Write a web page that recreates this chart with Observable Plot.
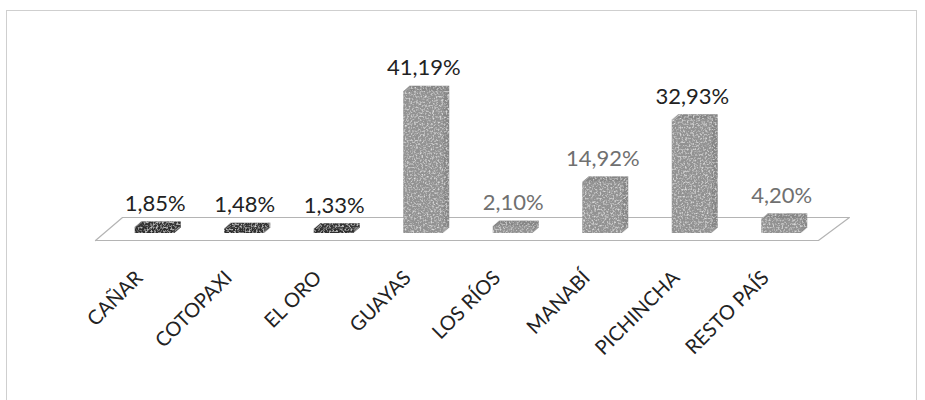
<!DOCTYPE html>
<html lang="es">
<head>
<meta charset="utf-8">
<script src="https://cdn.jsdelivr.net/npm/d3@7"></script>
<script src="https://cdn.jsdelivr.net/npm/@observablehq/plot@0.6"></script>
<style>
  html, body { margin: 0; padding: 0; background: #fff; }
  #wrap { position: relative; width: 925px; height: 400px; overflow: hidden; }
  #border { position: absolute; left: 6px; top: 10px; width: 911px; height: 400px;
            border: 1px solid #cfcfcf; border-bottom: none; box-sizing: border-box; pointer-events: none; }
  #chart { position: absolute; left: 0; top: 0; }
</style>
</head>
<body>
<div id="wrap">
  <div id="chart"></div>
  <div id="border"></div>
</div>
<script>
// Participación por provincia (%)
const categories = ["CAÑAR", "COTOPAXI", "EL ORO", "GUAYAS", "LOS RÍOS", "MANABÍ", "PICHINCHA", "RESTO PAÍS"];
const shares = [1.85, 1.48, 1.33, 41.19, 2.10, 14.92, 32.93, 4.20];

// Styling
const darkBars = new Set(["CAÑAR", "COTOPAXI", "EL ORO"]);
const darkLabels = new Set(["CAÑAR", "COTOPAXI", "EL ORO", "GUAYAS", "PICHINCHA"]);
const fmt = v => d3.format(".2f")(v).replace(".", ",") + "%";

const rows = categories.map((category, i) => ({i, category, share: shares[i]}));

// Layout of the pseudo-3D chart
const W = 925, H = 400;
const xDomain = [-0.5, 7.5];
const marginLeft = 110, marginRight = 99;
const marginTop = 60.5, marginBottom = 167;
const yDomain = [0, 50];
const pxPerX = (W - marginLeft - marginRight) / (xDomain[1] - xDomain[0]);
const pxPerY = (H - marginTop - marginBottom) / (yDomain[1] - yDomain[0]);
const half = 20 / pxPerX;          // half width of a bar front face
const depth = 6;                    // extrusion depth in px

// Floor parallelogram around the baseline (pixel offsets converted to data units)
const floorPts = [
  {x: xDomain[0] - 15 / pxPerX, y: -7 / pxPerY},
  {x: xDomain[1] + 0.1 - 17 / pxPerX, y: -7 / pxPerY},
  {x: xDomain[1] + 0.1 + 14 / pxPerX, y: 16 / pxPerY},
  {x: xDomain[0] + 12 / pxPerX, y: 16 / pxPerY}
];
floorPts.push(floorPts[0]);

const sideFill = d => darkBars.has(d.category) ? "#363636" : "#868686";
const frontFill = d => darkBars.has(d.category) ? "#2e2e2e" : "#929292";

const extrusion = d3.range(1, depth + 1).map(k =>
  Plot.rect(rows, {
    x1: d => d.i - half, x2: d => d.i + half, y1: 0, y2: "share",
    dx: k, dy: -0.86 * k, fill: sideFill
  })
);

const chart = Plot.plot({
  width: W, height: H,
  marginLeft, marginRight, marginTop, marginBottom,
  x: {type: "linear", domain: xDomain, axis: null},
  y: {domain: yDomain, axis: null},
  style: {background: "transparent", fontFamily: "Lato, 'Open Sans', sans-serif"},
  marks: [
    Plot.line(floorPts, {x: "x", y: "y", stroke: "#b4b4b4", strokeWidth: 1.2, fill: "none"}),
    ...extrusion,
    Plot.rect(rows, {
      x1: d => d.i - half, x2: d => d.i + half, y1: 0, y2: "share", fill: frontFill
    }),
    Plot.text(rows, {
      x: "i", y: "share", text: d => fmt(d.share),
      dx: 0, dy: -23, fontSize: 22,
      fill: d => darkLabels.has(d.category) ? "#222" : "#707070"
    }),
    Plot.text(rows, {
      x: "i", y: 0, text: "category", rotate: -45, textAnchor: "end",
      dx: -16, dy: 41, fontSize: 20, fill: "#222"
    })
  ]
});

// Speckled print texture on the bar faces
const svg = d3.select(chart);
const defs = svg.insert("defs", ":first-child");
const grain = defs.append("filter").attr("id", "grain")
  .attr("x", 0).attr("y", 0).attr("width", 1).attr("height", 1);
grain.append("feTurbulence").attr("type", "fractalNoise")
  .attr("baseFrequency", 0.55).attr("numOctaves", 2).attr("seed", 7).attr("result", "noise");
grain.append("feColorMatrix").attr("in", "noise").attr("type", "matrix")
  .attr("values", "0 0 0 0 1  0 0 0 0 1  0 0 0 0 1  0 0 0 -1.6 0.85")
  .attr("result", "speck");
grain.append("feComposite").attr("in", "speck").attr("in2", "SourceGraphic")
  .attr("operator", "in").attr("result", "speckIn");
const merge = grain.append("feMerge");
merge.append("feMergeNode").attr("in", "SourceGraphic");
merge.append("feMergeNode").attr("in", "speckIn");
svg.selectAll('g[aria-label="rect"]').attr("filter", "url(#grain)");

document.getElementById("chart").appendChild(chart);
</script>
</body>
</html>
